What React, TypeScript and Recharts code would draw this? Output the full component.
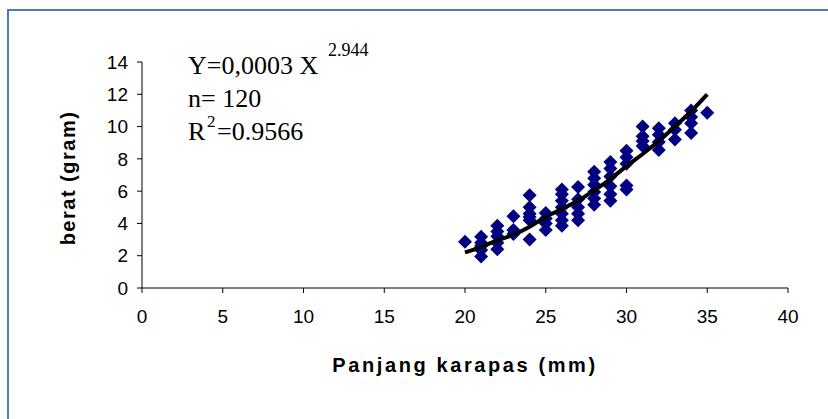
import React from 'react';
import { ScatterChart, Scatter, XAxis, YAxis } from 'recharts';

// panjang karapas (mm) dan berat (gram)
const panjang = [
  20,
  21, 21, 21, 21, 21,
  22, 22, 22, 22, 22,
  23, 23, 23,
  24, 24, 24, 24, 24, 24,
  25, 25, 25, 25,
  26, 26, 26, 26, 26, 26, 26,
  27, 27, 27, 27, 27,
  28, 28, 28, 28, 28, 28,
  29, 29, 29, 29, 29, 29,
  30, 30, 30, 30, 30,
  31, 31, 31, 31,
  32, 32, 32, 32,
  33, 33, 33,
  34, 34, 34, 34,
  35,
];
const berat = [
  2.87,
  1.95, 2.35, 2.6, 2.8, 3.18,
  2.4, 2.8, 3.2, 3.5, 3.85,
  3.35, 3.6, 4.45,
  3.0, 4.2, 4.4, 4.6, 5.0, 5.75,
  3.6, 4.0, 4.3, 4.65,
  3.85, 4.2, 4.6, 5.0, 5.4, 5.8, 6.1,
  4.2, 4.6, 5.0, 5.5, 6.25,
  5.15, 5.55, 5.95, 6.4, 6.8, 7.2,
  5.4, 5.8, 6.3, 6.9, 7.4, 7.8,
  6.1, 6.35, 7.7, 8.1, 8.5,
  8.8, 9.1, 9.4, 10.0,
  8.55, 9.05, 9.5, 9.9,
  9.2, 9.8, 10.2,
  9.6, 10.2, 10.6, 11.0,
  10.85,
];

// garis tren (power) seperti terbaca di gambar
const trendX = [20, 21, 22, 23, 24, 25, 26, 27, 28, 29, 30, 31, 32, 33, 34, 35];
const trendY = [2.2, 2.55, 2.95, 3.3, 3.8, 4.4, 4.9, 5.4, 6.05, 6.75, 7.55, 8.3, 9.1, 10.0, 10.95, 12.0];

const xTicks = [0, 5, 10, 15, 20, 25, 30, 35, 40];
const yTicks = [0, 2, 4, 6, 8, 10, 12, 14];

const points = panjang.map((x, i) => ({ x, y: berat[i] }));
const trend = trendX.map((x, i) => ({ x, y: trendY[i] }));

const SANS = '"Liberation Sans", Arial, sans-serif';
const SERIF = '"Liberation Serif", "Times New Roman", serif';

const Diamond = (props: any) => {
  const { cx, cy } = props;
  const r = 7;
  return (
    <polygon
      points={`${cx},${cy - r} ${cx + r},${cy} ${cx},${cy + r} ${cx - r},${cy}`}
      fill="#000080"
    />
  );
};

export default function App() {
  return (
    <div style={{ position: 'relative', width: 828, height: 419, overflow: 'hidden', background: '#fff' }}>
      <style>{`body{margin:0}`}</style>
      {/* bingkai biru */}
      <div
        style={{
          position: 'absolute',
          left: 7,
          top: 9,
          width: 900,
          height: 500,
          border: '2px solid #4A7EBB',
          boxSizing: 'border-box',
        }}
      />
      <div style={{ position: 'absolute', left: 0, top: 0 }}>
        <ScatterChart width={828} height={419} margin={{ top: 62, right: 40, bottom: 41, left: 62 }}>
          <XAxis
            type="number"
            dataKey="x"
            domain={[0, 40]}
            ticks={xTicks}
            height={90}
            axisLine={{ stroke: '#000', strokeWidth: 1 }}
            tickLine={{ stroke: '#000' }}
            tickSize={5}
            tickMargin={17}
            tick={{ fill: '#000', fontSize: 19, fontFamily: SANS }}
            label={{
              content: () => (
                <text
                  x={465}
                  y={372}
                  textAnchor="middle"
                  fontFamily={SANS}
                  fontWeight="bold"
                  fontSize={20}
                  letterSpacing={2.6}
                  fill="#000"
                >
                  Panjang karapas (mm)
                </text>
              ),
            }}
          />
          <YAxis
            type="number"
            dataKey="y"
            domain={[0, 14]}
            ticks={yTicks}
            width={80}
            axisLine={{ stroke: '#000', strokeWidth: 1 }}
            tickLine={{ stroke: '#000' }}
            tickSize={5}
            tickMargin={9}
            tick={{ fill: '#000', fontSize: 19, fontFamily: SANS }}
            label={{
              content: () => (
                <text
                  x={75}
                  y={178}
                  transform="rotate(-90 75 178)"
                  textAnchor="middle"
                  fontFamily={SANS}
                  fontWeight="bold"
                  fontSize={20}
                  letterSpacing={1.5}
                  fill="#000"
                >
                  berat (gram)
                </text>
              ),
            }}
          />
          <Scatter data={points} shape={<Diamond />} isAnimationActive={false} />
          <Scatter
            data={trend}
            line={{ stroke: '#000', strokeWidth: 4 }}
            lineJointType="monotoneX"
            shape={() => <g />}
            isAnimationActive={false}
          />
          <text fontFamily={SERIF} fontSize={26} fill="#000">
            <tspan x={188} y={74}>Y=0,0003 X</tspan>
            <tspan x={328} y={56} fontSize={18}>2.944</tspan>
          </text>
          <text x={188} y={107} fontFamily={SERIF} fontSize={26} fill="#000">n= 120</text>
          <text fontFamily={SERIF} fontSize={26} fill="#000">
            <tspan x={188} y={140}>R</tspan>
            <tspan x={207} y={127} fontSize={17}>2</tspan>
            <tspan x={217} y={140}>=0.9566</tspan>
          </text>
        </ScatterChart>
      </div>
    </div>
  );
}
